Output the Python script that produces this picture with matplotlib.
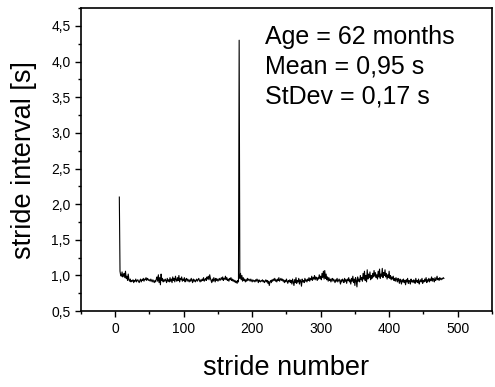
import numpy as np
import matplotlib as mpl
mpl.use('Agg')
import matplotlib.pyplot as plt
from matplotlib.ticker import MultipleLocator, FuncFormatter

mpl.rcParams['font.family'] = 'sans-serif'
mpl.rcParams['font.sans-serif'] = ['Liberation Sans', 'DejaVu Sans']

# stride intervals [s], strides 6..480
stride_start = 6
stride_interval = [
    2.10, 1.06, 1.00, 0.99, 1.05, 0.98, 1.00, 1.03, 0.97, 1.06, 0.96, 0.99, 0.93, 1.02, 0.94, 0.92, 0.95, 0.91, 0.93, 0.92, 0.94, 0.90, 0.93, 0.92, 0.95,
    0.91, 0.93, 0.94, 0.92, 0.90, 0.93, 0.95, 0.91, 0.94, 0.93, 0.96, 0.92, 0.95, 0.94, 0.97, 0.93, 0.96, 0.95, 0.93, 0.94, 0.92, 0.95, 0.93, 0.91, 0.94,
    0.92, 0.90, 0.93, 0.91, 0.95, 0.98, 0.92, 1.01, 0.90, 0.97, 0.87, 1.02, 0.93, 0.96, 0.91, 0.94, 0.92, 0.95, 0.93, 0.90, 0.96, 0.92, 0.94, 0.91, 0.97,
    0.92, 0.95, 0.90, 0.98, 0.93, 0.96, 0.91, 0.99, 0.94, 0.92, 0.97, 0.93, 1.00, 0.91, 0.96, 0.94, 0.98, 0.92, 0.95, 0.93, 0.97, 0.91, 0.94, 0.96, 0.92,
    0.95, 0.93, 0.91, 0.94, 0.92, 0.96, 0.93, 0.90, 0.95, 0.92, 0.94, 0.91, 0.93, 0.95, 0.92, 0.94, 0.96, 0.93, 0.91, 0.94, 0.92, 0.95, 0.93, 0.97, 0.92,
    0.94, 0.96, 0.93, 0.98, 0.95, 0.99, 0.94, 1.01, 0.96, 0.93, 0.90, 0.95, 0.92, 0.97, 0.94, 0.91, 0.96, 0.93, 0.95, 0.92, 0.94, 0.96, 0.93, 0.95, 0.97,
    0.94, 0.98, 0.93, 0.96, 0.95, 0.99, 0.94, 0.97, 0.93, 0.95, 0.92, 0.96, 0.94, 0.97, 0.93, 0.95, 0.92, 0.94, 0.91, 0.93, 0.90, 0.92, 0.89, 0.93, 0.91,
    4.30, 0.96, 1.03, 0.94, 1.00, 0.92, 0.97, 0.93, 0.95, 0.91, 0.94, 0.92, 0.96, 0.93, 0.95, 0.94, 0.92, 0.95, 0.93, 0.91, 0.94, 0.92, 0.93, 0.91, 0.94,
    0.92, 0.95, 0.93, 0.90, 0.94, 0.92, 0.91, 0.93, 0.92, 0.94, 0.91, 0.93, 0.90, 0.92, 0.94, 0.91, 0.93, 0.89, 0.92, 0.86, 0.91, 0.93, 0.90, 0.94, 0.92,
    0.95, 0.93, 0.96, 0.92, 0.94, 0.91, 0.95, 0.93, 0.97, 0.92, 0.94, 0.96, 0.93, 0.95, 0.92, 0.94, 0.90, 0.93, 0.91, 0.95, 0.92, 0.89, 0.93, 0.91, 0.94,
    0.90, 0.93, 0.88, 0.95, 0.91, 0.86, 0.94, 0.90, 0.97, 0.89, 0.93, 0.91, 0.96, 0.88, 0.94, 0.92, 0.85, 0.95, 0.91, 0.93, 0.90, 0.96, 0.92, 0.94, 0.91,
    0.95, 0.93, 0.97, 0.92, 0.96, 0.94, 0.99, 0.93, 0.97, 0.95, 1.00, 0.94, 0.98, 0.96, 0.93, 0.97, 0.95, 1.01, 0.96, 0.99, 0.94, 1.03, 0.97, 1.06, 0.95,
    1.07, 0.96, 1.02, 0.94, 0.98, 0.92, 0.97, 0.93, 0.95, 0.91, 0.94, 0.96, 0.92, 0.95, 0.93, 0.90, 0.94, 0.92, 0.96, 0.91, 0.93, 0.95, 0.92, 0.88, 0.94,
    0.91, 0.95, 0.93, 0.90, 0.96, 0.92, 0.94, 0.89, 0.95, 0.93, 0.97, 0.91, 0.94, 0.88, 0.96, 0.92, 0.99, 0.90, 0.95, 0.86, 0.97, 0.93, 0.84, 0.98, 0.92,
    0.95, 0.91, 1.00, 0.94, 0.97, 0.92, 1.03, 0.95, 1.06, 0.93, 1.00, 0.91, 1.08, 0.95, 1.02, 0.97, 1.05, 0.94, 1.00, 0.96, 1.03, 0.98, 1.07, 0.99, 1.04,
    0.97, 1.01, 0.95, 1.06, 0.98, 1.09, 0.96, 1.02, 0.99, 1.10, 0.97, 1.04, 1.00, 1.08, 0.98, 1.03, 0.95, 1.01, 0.97, 1.06, 0.96, 1.00, 0.94, 0.98, 0.95,
    0.99, 0.93, 0.96, 0.92, 0.97, 0.94, 0.91, 0.96, 0.93, 0.89, 0.95, 0.92, 0.88, 0.94, 0.91, 0.95, 0.90, 0.93, 0.87, 0.94, 0.91, 0.96, 0.89, 0.93, 0.92,
    0.88, 0.95, 0.91, 0.93, 0.90, 0.94, 0.92, 0.89, 0.96, 0.91, 0.93, 0.90, 0.95, 0.88, 0.92, 0.94, 0.91, 0.96, 0.89, 0.93, 0.91, 0.95, 0.92, 0.97, 0.90,
    0.94, 0.92, 0.96, 0.91, 0.95, 0.93, 0.98, 0.92, 0.96, 0.94, 0.91, 0.97, 0.93, 0.95, 0.99, 0.94, 0.96, 0.93, 0.97, 0.95, 0.94, 0.96, 0.95, 0.97, 0.96,
]
stride_number = np.arange(stride_start, stride_start + len(stride_interval))

info_lines = ['Age = 62 months', 'Mean = 0,95 s', 'StDev = 0,17 s']

fig = plt.figure(figsize=(4.95, 3.87), dpi=100)
ax = fig.add_axes([0.1636, 0.196, 0.830, 0.783])

ax.plot(stride_number, stride_interval, color='black', lw=0.8)

ax.set_xlim(-50, 550)
ax.set_ylim(0.5, 4.75)
ax.xaxis.set_major_locator(MultipleLocator(100))
ax.xaxis.set_minor_locator(MultipleLocator(50))
ax.yaxis.set_major_locator(MultipleLocator(0.5))
ax.yaxis.set_minor_locator(MultipleLocator(0.25))
ax.yaxis.set_major_formatter(FuncFormatter(lambda v, p: ('%.1f' % v).replace('.', ',')))

ax.tick_params(which='both', direction='out', labelsize=10, width=1)
ax.tick_params(which='major', length=4)
ax.tick_params(which='minor', length=2.5)
for sp in ax.spines.values():
    sp.set_linewidth(1.2)

ax.set_xlabel('stride number', fontsize=19.5, labelpad=14)
ax.set_ylabel('stride interval [s]', fontsize=19.5, labelpad=10)

ax.text(0.448, 0.945, '\n'.join(info_lines), transform=ax.transAxes,
        fontsize=18, va='top', ha='left', linespacing=1.3)

fig.savefig('out.png', dpi=100)
